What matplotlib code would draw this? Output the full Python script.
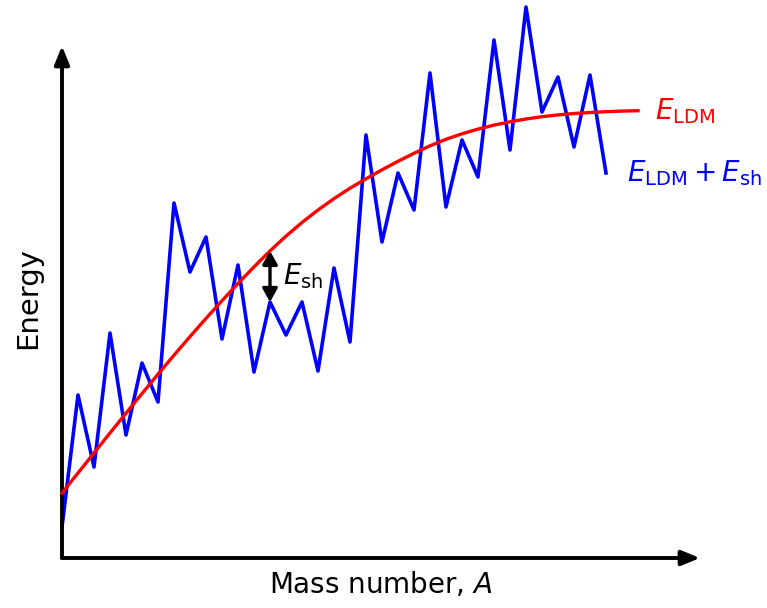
import matplotlib
matplotlib.use('Agg')
import matplotlib.pyplot as plt

# Energie-Werte in willkuerlichen Einheiten, Massenzahl als Index
mass_ldm = list(range(37))
e_ldm = [6.5, 8.5, 10.5, 12.5, 14.48, 16.44, 18.38, 20.28, 22.14, 23.96,
         25.73, 27.45, 29.11, 30.71, 32.19, 33.55, 34.8, 35.94, 36.98, 37.92,
         38.82, 39.67, 40.47, 41.22, 41.87, 42.42, 42.89, 43.29, 43.62, 43.9,
         44.13, 44.31, 44.45, 44.55, 44.63, 44.69, 44.73]

mass_sh = list(range(35))
e_total = [3.1, 16.3, 9.1, 22.5, 12.3, 19.5, 15.6, 35.5, 28.6, 32.1,
           21.9, 29.3, 18.6, 25.6, 22.3, 25.6, 18.7, 29.0, 21.6, 42.3,
           31.6, 38.5, 34.8, 48.5, 35.1, 41.8, 38.1, 51.8, 40.8, 55.1,
           44.6, 48.1, 41.1, 48.3, 38.5]

arrow_at = 13  # wo der Pfeil fuer E_sh sitzt

plt.rcParams['mathtext.fontset'] = 'dejavusans'

fig = plt.figure(figsize=(7.67, 6.08), dpi=100)
ax = fig.add_axes([62 / 767, 50 / 608, 638 / 767, 512 / 608])
ax.set_xlim(0, 39.875)
ax.set_ylim(0, 51.2)
for s in ax.spines.values():
    s.set_visible(False)
ax.set_xticks([])
ax.set_yticks([])

# Achsen mit Pfeilspitzen
ax.annotate('', xy=(1, 0), xytext=(0, 0), xycoords='axes fraction',
            arrowprops=dict(arrowstyle='-|>,head_length=11,head_width=4.5',
                            mutation_scale=1, lw=2.8, color='k',
                            shrinkA=0, shrinkB=0))
ax.annotate('', xy=(0, 1), xytext=(0, 0), xycoords='axes fraction',
            arrowprops=dict(arrowstyle='-|>,head_length=11,head_width=4.5',
                            mutation_scale=1, lw=2.8, color='k',
                            shrinkA=0, shrinkB=0))

ax.plot(mass_ldm, e_ldm, color='red', lw=2.4, clip_on=False, zorder=3)
ax.plot(mass_sh, e_total, color='blue', lw=2.6, clip_on=False, zorder=2)

ax.annotate('', xy=(arrow_at, e_total[arrow_at]), xytext=(arrow_at, e_ldm[arrow_at]),
            arrowprops=dict(arrowstyle='<|-|>,head_length=8,head_width=4.5',
                            mutation_scale=1, lw=2.4, color='k',
                            shrinkA=0, shrinkB=0), zorder=4)

ax.text(37.06, e_ldm[-1], r'$E_{\rm LDM}$', color='red', fontsize=20,
        va='center', ha='left')
ax.text(35.3, e_total[-1], r'$E_{\rm LDM} + E_{\rm sh}$', color='blue',
        fontsize=20, va='center', ha='left')
ax.text(13.8, (e_ldm[arrow_at] + e_total[arrow_at]) / 2, r'$E_{\rm sh}$',
        color='k', fontsize=20, va='center', ha='left')

fig.text(381 / 767, 1 - 593 / 608, r'Mass number, $A$', fontsize=20,
         ha='center', va='baseline')
fig.text(28 / 767, 1 - 298 / 608, 'Energy', fontsize=21, rotation=90,
         ha='center', va='center')

fig.savefig('out.png', dpi=100)
